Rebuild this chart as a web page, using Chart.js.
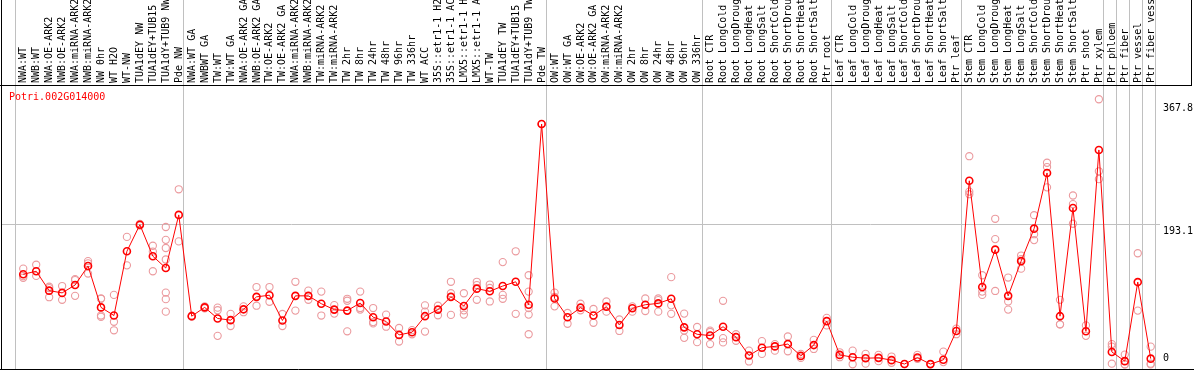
<!DOCTYPE html>
<html><head><meta charset="utf-8">
<script src="https://cdn.jsdelivr.net/npm/chart.js@4"></script>
<style>html,body{margin:0;padding:0;background:#fff;overflow:hidden}canvas{display:block}</style>
</head><body>
<canvas id="c" width="1194" height="370"></canvas>
<script>
const geneName = "Potri.002G014000";

const categories = [
  "NWA:WT","NWB:WT","NWA:OE-ARK2","NWB:OE-ARK2","NWA:miRNA-ARK2","NWB:miRNA-ARK2","NW 0hr","WT H2O","WT-NW","TUA1dEY NW","TUA1dEY+TUB15 NW","TUA1dY+TUB9 NW","Pde NW",
  "NWA:WT GA","NWBWT GA","TW:WT","TW:WT GA","NWA:OE-ARK2 GA","NWB:OE-ARK2 GA","TW:OE-ARK2","TW:OE-ARK2 GA","NWA:miRNA-ARK2","NWB:miRNA-ARK2","TW:miRNA-ARK2","TW:miRNA-ARK2",
  "TW 2hr","TW 8hr","TW 24hr","TW 48hr","TW 96hr","TW 336hr","WT ACC","35S::etr1-1 H2O","35S::etr1-1 ACC","LMX5::etr1-1 H2O","LMX5::etr1-1 ACC","WT-TW","TUA1dEY TW","TUA1dEY+TUB15 TW","TUA1dY+TUB9 TW","Pde TW",
  "OW:WT","OW:WT GA","OW:OE-ARK2","OW:OE-ARK2 GA","OW:miRNA-ARK2","OW:miRNA-ARK2","OW 2hr","OW 8hr","OW 24hr","OW 48hr","OW 96hr","OW 336hr",
  "Root CTR","Root LongCold","Root LongDrought","Root LongHeat","Root LongSalt","Root ShortCold","Root ShortDrought","Root ShortHeat","Root ShortSalt","Ptr root",
  "Leaf CTR","Leaf LongCold","Leaf LongDrought","Leaf LongHeat","Leaf LongSalt","Leaf ShortCold","Leaf ShortDrought","Leaf ShortHeat","Leaf ShortSalt","Ptr leaf",
  "Stem CTR","Stem LongCold","Stem LongDrought","Stem LongHeat","Stem LongSalt","Stem ShortCold","Stem ShortDrought","Stem ShortHeat","Stem ShortSalt","Ptr shoot","Ptr xylem",
  "Ptr phloem","Ptr fiber","Ptr vessel","Ptr fiber vessel"
];

const meanValues = [
  125.1,129.2,102.3,99.2,110.1,136.5,79.1,67.8,156.9,193.8,150.1,133.7,207.4,
  66.9,79.1,63.7,61.4,76.4,93.7,96.0,60.9,95.1,95.1,84.2,76.0,
  74.6,85.1,65.5,59.6,40.9,44.6,66.9,76.0,93.7,81.0,105.1,101.4,108.7,114.6,82.8,333.4,
  91.4,65.5,78.7,67.8,80.1,54.6,77.8,82.8,84.6,91.0,51.4,41.8,
  40.0,52.3,37.8,12.3,23.2,25.0,28.2,11.8,26.8,60.0,
  13.2,10.0,8.6,9.1,5.9,0.5,9.5,0.4,6.4,46.4,
  254.7,107.3,159.2,95.1,143.3,188.3,265.6,66.9,217.0,45.9,297.5,
  17.3,4.5,114.2,8.0
];

const replicateValues = [
  [132.8,122.4,120.1],[138.3,122.8],[107.8,105.9,93.2],[108.7,89.6],[118.3,116.9,95.1],[143.3,140.2,126.0],
  [91.0,91.5,67.8,65.9],[96.4,59.1,47.3],[176.9,137.4],[195.0,192.6],[164.6,156.5,129.2],
  [190.6,172.8,161.5,145.5,99.6,90.5,73.2],[242.9,170.6],
  [67.5,66.2],[80.5,77.7],[78.7,75.1,39.6],[70.1,53.2],[80.5,72.4],[107.3,81.4],[107.3,86.9],[70.0,53.2],
  [114.6,74.6],[102.3,89.6],[101.0,67.8],[82.3,70.5],
  [91.0,88.3,45.9],[101.0,78.2,76.0],[78.2,58.7,56.9],[69.1,52.3],[50.5,40.9,31.8],[47.5,41.8],
  [81.9,73.3,45.5],[81.4,68.2],[114.6,98.7,68.7],[98.7,75.0,69.1],[114.6,110.1,89.6],[110.8,106.0,87.3],
  [141.9,96.4,91.0],[156.9,70.1],[123.7,101.0,78.2,69.1,41.8],[333.4],
  [99.6,93.5,80.5],[71.4,56.4],[84.2,75.1],[76.9,57.8],[87.3,73.2],[62.3,46.4],[80.5,73.2],[91.4,74.1],
  [91.4,89.2,73.2],[121.0,81.9,70.1],[70.5,47.0,36.8],[51.9,30.9],
  [45.0,46.8,28.2],[88.2,36.4,30.5],[41.8,32.8],[19.1,4.1],[32.3,14.6],[28.2,19.1],[38.7,28.0,18.2],
  [14.6,9.0],[34.1,21.4],[64.6,54.1],
  [16.8,10.0],[19.1,0.2],[14.6,1.0],[13.2,4.5],[10.9,2.3],[0.5],[13.2,7.7],[0.4],[17.7,3.2],[49.6,41.9],
  [288.8,239.7,236.1],[123.7,101.0,96.4],[202.0,173.8,101.9],[120.5,87.3,76.0],[151.0,146.0,132.8],
  [207.0,180.6,172.4],[279.7,273.8,245.6],[89.6,55.5,55.6],[234.3,222.4,195.1],[54.1,39.6],[367.8,267.9,257.0],
  [28.2,24.6,1.0],[13.6,0.0,0.0],[154.2,74.6],[24.6,1.0,0.0]
];

const groupStarts = [0,13,41,53,63,73,84,85,86,87,88];
const yTickValues = [0,193.1,367.8];
const yMax = 386.2;

const meanPoints = meanValues.map((v,i)=>({x:i,y:v}));
const repPoints = [];
replicateValues.forEach((arr,i)=>arr.forEach(v=>repPoints.push({x:i,y:v})));

const FONT = '10px "DejaVu Sans Mono", "Liberation Mono", monospace';

const framePlugin = {
  id:'frame',
  beforeDatasetsDraw(chart){
    const ctx = chart.ctx, xs = chart.scales.x, ys = chart.scales.y;
    ctx.save();
    ctx.strokeStyle = '#c0c0c0';
    ctx.lineWidth = 1;
    groupStarts.forEach(k=>{
      const px = Math.round(xs.getPixelForValue(k-0.66))+0.5;
      ctx.beginPath(); ctx.moveTo(px,0); ctx.lineTo(px,369); ctx.stroke();
    });
    const gy = Math.round(ys.getPixelForValue(yTickValues[1]))-0.5;
    ctx.beginPath(); ctx.moveTo(2,gy); ctx.lineTo(1160,gy); ctx.stroke();
    ctx.restore();
  },
  afterDraw(chart){
    const ctx = chart.ctx, xs = chart.scales.x, ys = chart.scales.y;
    ctx.save();
    ctx.strokeStyle = '#000';
    ctx.lineWidth = 1;
    ctx.beginPath();
    ctx.moveTo(1.5,0); ctx.lineTo(1.5,370);
    ctx.moveTo(0,369.5); ctx.lineTo(1194,369.5);
    ctx.moveTo(0,85.5); ctx.lineTo(1192,85.5);
    ctx.moveTo(1191.5,0); ctx.lineTo(1191.5,85.5);
    ctx.stroke();
    ctx.font = FONT;
    ctx.fillStyle = '#000';
    ctx.textAlign = 'left';
    ctx.textBaseline = 'middle';
    categories.forEach((lab,i)=>{
      const px = xs.getPixelForValue(i);
      ctx.save();
      ctx.translate(Math.round(px)+0.5, 83);
      ctx.rotate(-Math.PI/2);
      ctx.fillText(lab,0,0);
      ctx.restore();
    });
    ctx.fillStyle = '#ff0000';
    ctx.textBaseline = 'alphabetic';
    ctx.fillText(geneName, 9, 100);
    ctx.fillStyle = '#000';
    const offs = [-3, 9, 11.5];
    yTickValues.forEach((v,j)=>{
      const py = ys.getPixelForValue(v);
      ctx.fillText(String(v), 1163, py + offs[j]);
    });
    ctx.restore();
  }
};

new Chart(document.getElementById('c'), {
  type:'line',
  data:{
    datasets:[
      {
        type:'line', data:meanPoints,
        borderColor:'#ff0000', borderWidth:1,
        pointRadius:3.5, pointBorderWidth:1.6,
        pointBorderColor:'#ff0000', pointBackgroundColor:'rgba(255,255,255,0)',
        pointStyle:'circle', tension:0, clip:false
      },
      {
        type:'scatter', data:repPoints, showLine:false,
        pointRadius:3.6, pointBorderWidth:1.1,
        pointBorderColor:'#eb9a9e', pointBackgroundColor:'rgba(255,255,255,0)',
        pointStyle:'circle', clip:false
      }
    ]
  },
  options:{
    responsive:false, animation:false, devicePixelRatio:1, events:[],
    layout:{padding:{left:2,right:38,top:86,bottom:1}},
    plugins:{legend:{display:false},tooltip:{enabled:false},title:{display:false}},
    scales:{
      x:{type:'linear', min:-1.3615, max:87.4077, display:false},
      y:{type:'linear', min:0, max:yMax, display:false}
    }
  },
  plugins:[framePlugin]
});
</script>
</body></html>
